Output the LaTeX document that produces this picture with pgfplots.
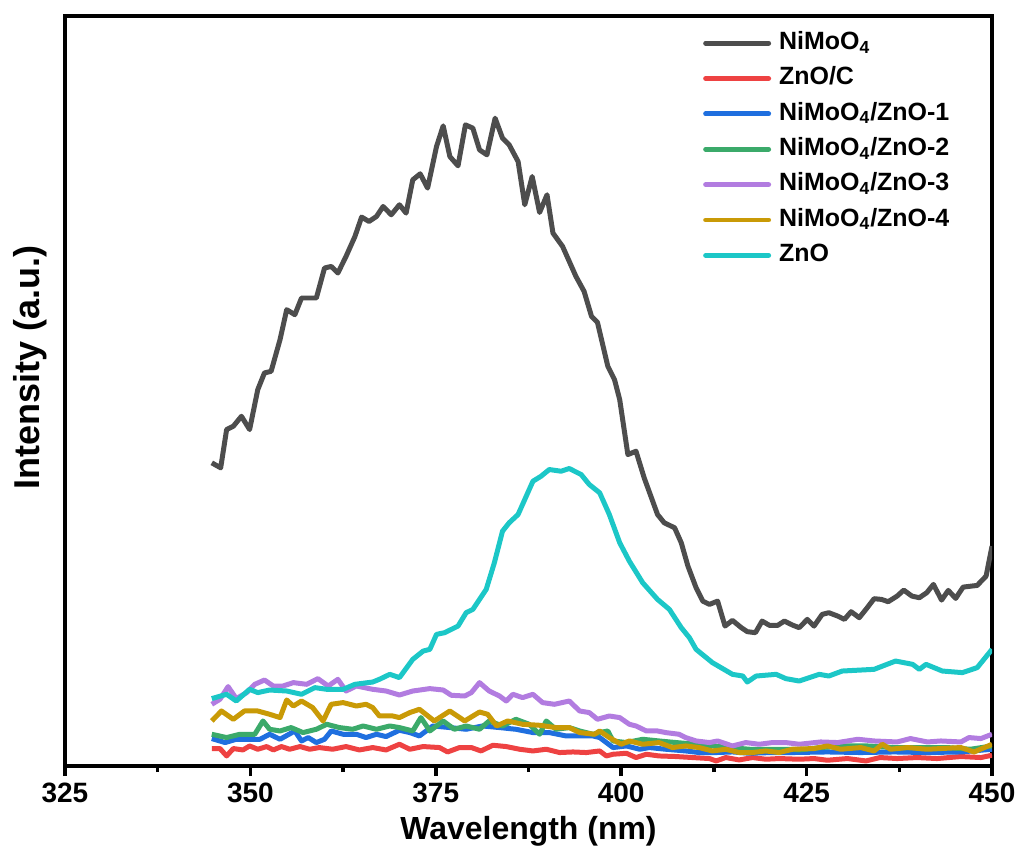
\documentclass[border=0pt]{standalone}
\usepackage{fontspec}
\setmainfont{Liberation Sans}
\usepackage{pgfplots}
\pgfplotsset{compat=1.18}

\definecolor{cNi}{HTML}{4D4D4D}
\definecolor{cZC}{HTML}{EE4242}
\definecolor{cA}{HTML}{1F6FDF}
\definecolor{cB}{HTML}{3BAA6A}
\definecolor{cC}{HTML}{B27CE0}
\definecolor{cD}{HTML}{C99A06}
\definecolor{cZ}{HTML}{1CC7C7}

\begin{document}
\begin{tikzpicture}
\begin{axis}[
  scale only axis,
  width=464pt, height=375.5pt,
  xmin=325, xmax=450, ymin=0, ymax=751,
  xtick={325,350,...,450},
  minor x tick num=1,
  ytick=\empty,
  xtick pos=bottom,
  tick align=outside,
  major tick length=5pt,
  minor tick length=3pt,
  every tick/.style={black, line width=1.8pt},
  axis line style={line width=2pt},
  /pgf/number format/assume math mode=true,
  /pgf/number format/1000 sep={},
  ticklabel style={font=\fontsize{14}{16}\selectfont\bfseries},
  xlabel={Wavelength (nm)},
  ylabel={Intensity (a.u.)},
  xlabel style={font=\fontsize{16}{18}\selectfont\bfseries, at={(axis description cs:0.5,-0.066)}, anchor=north, inner sep=0pt},
  ylabel style={font=\fontsize{18}{20}\selectfont\bfseries, at={(axis description cs:-0.0194,0.531)}, anchor=south, inner sep=0pt},
  legend style={at={(axis description cs:0.688,0.98)}, anchor=north west, draw=none, fill=none,
    font=\fontsize{12.5}{14}\selectfont\bfseries, row sep=5.9pt, column sep=4pt, inner sep=0pt,
    nodes={inner sep=0pt, text height=9pt, text depth=2.8pt}},
  legend cell align=left,
  legend image code/.code={\draw[#1, line width=2.5pt, line cap=round] (0pt,0pt) -- (31.5pt,0pt);},
  every axis plot/.append style={line width=2.5pt, line join=round, mark=none},
]

\addplot[cNi] coordinates {
(344.8,303.7) (346.0,298.7) (346.8,337) (347.7,340.3) (348.8,350.3) (349.9,337) (351.0,377)
(351.9,393.7) (352.8,395.3) (354.0,427) (354.9,457) (356.0,452) (356.9,468.7) (358.9,468.7)
(360.0,498.7) (360.9,500.3) (361.8,493.7) (362.9,510.3) (364.1,530.3) (365.0,549.7) (366.0,545.3)
(367.0,550.3) (367.9,560.3) (369.0,552) (370.1,562) (371.0,553.7) (371.9,587) (372.9,593)
(373.9,578.7) (375.1,620.3) (376.0,641) (376.9,610.3) (378.0,601) (379.0,642) (380.0,638.7)
(380.9,617) (381.9,612) (383.0,648.7) (384.0,628.7) (384.9,622) (386.1,605.3) (387.0,562)
(388.0,590.3) (389.0,554.3) (390.0,572) (390.8,533.7) (392.1,520.3) (393.9,490.3) (395.0,475.3)
(396.0,450.3) (396.8,444.3) (398.2,400.3) (399.1,387) (399.8,367) (400.9,312) (402.0,315.3)
(403.1,288.7) (404.9,252) (405.8,243.7) (407.2,238.7) (408.1,223.7) (409.0,200.3) (410.1,178.7)
(411.0,165.3) (411.9,162) (413.0,165.3) (414.0,140.3) (415.0,146) (416.2,138.7) (417.0,134.7)
(418.1,133.7) (419.0,145.3) (420.0,141) (421.1,141) (422.0,145.3) (423.1,141.3) (424.0,138.7)
(425.1,147) (426.0,140.3) (427.1,152) (428.0,153.7) (429.2,150.3) (430.1,147) (431.0,154.7)
(432.1,148.7) (433.0,157) (434.1,167.7) (435.1,167) (436.0,164.7) (437.2,170.3) (438.1,176.3)
(439.2,170.3) (440.2,168.7) (441.2,173.7) (442.1,182) (443.2,166.3) (444.1,176) (445.1,168)
(446.1,179.3) (448.0,181) (449.2,190.3) (450.0,220.3)
};
\addlegendentry{NiMoO\textsubscript{4}}

\addplot[cZC] coordinates {
(344.8,17.7) (345.9,17.7) (346.8,10.3) (347.7,17.7) (349.0,16.3) (349.9,20.3) (351.0,17)
(352.2,19.7) (353.1,16.3) (354.2,19.7) (355.3,17) (356.7,19.7) (358.0,17) (359.3,18.7)
(361.1,17) (362.9,19.7) (364.7,16.3) (366.5,18.7) (368.3,16.3) (370.1,22) (371.5,17)
(373.3,19.7) (375.5,18.7) (376.6,14.3) (378.2,18.7) (379.8,18.7) (381.1,15.3) (382.7,21)
(384.5,19.7) (386.3,17) (388.1,15.3) (389.9,17) (391.7,13.7) (393.5,14.3) (395.3,13.7)
(397.1,15.3) (398.0,10.3) (398.9,12) (400.7,13) (402.0,8.7) (403.4,12) (405.1,10.3)
(407.4,9.7) (409.6,8.7) (411.9,7.7) (412.8,5.3) (414.1,8.7) (415.9,6.3) (417.7,8.7)
(419.5,7) (421.3,7.7) (424.0,7) (426.0,7.7) (427.8,6) (430.5,7.7) (433.0,5.3) (434.9,8.7)
(437.2,7.7) (439.9,8.7) (442.6,7.7) (445.8,9.7) (448.5,8.7) (450.0,11)
};
\addlegendentry{ZnO/C}

\addplot[cA] coordinates {
(344.8,27.7) (346.6,23.7) (348.1,27) (349.9,27) (351.3,27) (352.6,32) (354.0,27) (356.0,35.3)
(356.9,25.3) (357.8,28.7) (358.9,23.7) (360.0,27) (360.9,35.3) (362.5,32) (364.3,32)
(365.6,28.7) (367.0,32) (368.3,29.7) (370.1,36) (371.5,33.7) (372.8,30.3) (374.6,40.3)
(376.9,38.7) (379.1,37) (381.3,40.3) (383.6,38.7) (385.8,37) (388.1,33.7) (390.3,33.7)
(392.6,30.3) (394.4,30.3) (396.2,30.3) (397.1,28.7) (398.9,18.7) (400.7,20.3) (402.5,17)
(403.8,18.7) (406.0,17) (408.7,15.3) (410.5,13.7) (412.8,13.7) (415.0,14.3) (417.3,13)
(420.4,13.7) (423.1,13.7) (427.8,14.3) (432.3,13.7) (436.8,14.3) (441.3,13.7) (445.8,14.3)
(450.0,17)
};
\addlegendentry{NiMoO\textsubscript{4}/ZnO-1}

\addplot[cB] coordinates {
(344.8,32) (346.8,28.7) (348.6,32) (350.6,32) (351.7,45.3) (352.6,37) (354.0,35.3) (355.5,38.7)
(357.1,33.7) (358.9,37) (360.3,42) (362.0,38.7) (363.8,37) (365.2,40.3) (367.0,37) (368.8,40.3)
(370.1,38.7) (371.9,35.3) (373.0,48.7) (374.2,35.3) (376.0,45.3) (377.5,37) (379.1,40.3)
(380.9,37) (382.2,45.3) (384.0,40.3) (385.8,47) (387.6,42) (389.0,32) (389.9,45.3) (391.2,37)
(393.0,38.7) (394.4,35.3) (396.2,32) (397.1,33.7) (398.2,35.3) (398.9,25.3) (400.7,23.7)
(402.9,27) (405.1,25.3) (407.4,23.7) (410.1,22) (412.3,20.3) (414.6,18.7) (417.3,17)
(420.4,17) (422.7,17) (424.0,16.3) (426.9,18.7) (430.0,20.3) (433.2,20.3) (436.8,18.7)
(440.4,18.7) (444.0,18.7) (447.1,17) (450.0,20.3)
};
\addlegendentry{NiMoO\textsubscript{4}/ZnO-2}

\addplot[cC] coordinates {
(344.8,62) (345.9,67) (347.0,79.7) (348.1,67.7) (349.5,73.7) (350.6,82) (351.9,86.3) (353.1,80.3)
(354.4,80.3) (355.8,83.7) (357.6,82) (359.1,87.7) (360.5,80.3) (361.8,87) (362.9,75.3)
(364.3,80.3) (366.5,77) (368.3,75.3) (370.1,71.3) (371.9,75.3) (374.2,77.7) (376.0,76.3)
(377.1,71) (378.9,70.3) (379.8,73.7) (380.9,83.7) (382.2,75.3) (383.6,70.3) (384.5,65.3)
(385.4,72) (386.7,68.7) (388.1,72) (389.4,63.7) (391.0,62) (393.0,65.3) (394.4,55.3)
(395.7,53.7) (396.8,47) (398.4,50.3) (399.8,48.7) (401.1,42) (402.0,40.3) (403.4,35.3)
(404.9,35.3) (406.0,33.7) (407.8,32) (408.7,28.7) (410.1,25.3) (411.9,23.7) (413.0,25.3)
(415.0,20.3) (416.8,23.7) (418.6,22) (420.4,23.7) (422.2,23.7) (424.0,22) (426.9,24.3)
(429.2,23.7) (431.9,27) (434.1,25.3) (437.2,24.3) (439.0,27.7) (441.3,24.3) (443.1,25.3)
(445.8,24.3) (446.9,28.7) (448.5,27.7) (450.0,32)
};
\addlegendentry{NiMoO\textsubscript{4}/ZnO-3}

\addplot[cD] coordinates {
(344.8,45.3) (346.1,55.3) (347.7,47) (349.2,55.3) (351.0,55.3) (352.6,52) (354.0,48.7) (354.9,66.3)
(355.8,60.3) (356.9,65.3) (358.4,58.7) (359.8,45.3) (360.9,62) (362.5,63.7) (364.3,60.3)
(365.6,62) (366.5,58.7) (367.4,50.3) (369.2,50.3) (370.1,48.7) (371.5,53.7) (372.8,57)
(374.8,45.3) (376.9,55.3) (378.9,45.3) (380.9,54.3) (382.0,52) (383.2,40.3) (384.7,45.3)
(386.7,42) (389.0,41) (391.2,38.7) (393.0,38.7) (394.4,33.7) (396.4,32) (397.1,35.3)
(398.4,28.7) (400.0,22) (401.1,25.3) (402.9,22) (405.1,23.7) (406.9,18.7) (408.7,20.3)
(410.5,18.7) (412.3,15.3) (414.1,17) (415.9,13.7) (417.7,13.7) (419.5,15.3) (421.3,13.7)
(423.1,17) (426.0,17.7) (427.8,20.3) (429.6,17) (432.3,18.7) (434.1,15.3) (435.2,22)
(436.3,17) (438.6,18.7) (441.3,17) (443.1,17.7) (445.8,18.7) (447.6,14.3) (450.0,22)
};
\addlegendentry{NiMoO\textsubscript{4}/ZnO-4}

\addplot[cZ] coordinates {
(344.8,67.7) (346.8,72) (348.1,65.3) (349.9,77) (351.0,73.7) (352.6,76.3) (354.9,75.3) (356.9,72)
(358.7,78.7) (360.3,77) (362.5,77) (364.1,82) (366.5,84.3) (367.4,87) (368.8,92) (370.1,88.7)
(371.9,107) (373.3,115.3) (374.2,117) (375.1,132) (376.2,133.7) (378.0,140.3) (379.1,153.7)
(380.0,157) (381.8,177) (382.9,203.7) (384.0,235.3) (384.9,243.7) (386.1,252) (387.0,267)
(388.1,285.3) (389.2,290.3) (390.3,297) (391.9,295.3) (393.0,298) (394.6,292) (395.7,282)
(397.1,273.7) (398.4,252) (399.8,223.7) (401.1,205.3) (402.9,183.7) (404.9,167) (406.5,157)
(408.1,138.7) (409.2,128.7) (410.1,117) (412.3,103.7) (415.0,92) (416.4,90.3) (417.0,84.3)
(418.2,90.3) (420.9,92) (422.2,87.7) (424.0,85.3) (426.7,92) (428.0,90.3) (429.8,95.3)
(434.1,97) (437.0,105.3) (439.3,102) (440.2,97) (441.1,102) (443.3,95.3) (446.0,93.7)
(448.0,98.7) (450.0,117)
};
\addlegendentry{ZnO}

\end{axis}
\path ([yshift=8pt]current axis.north);
\path ([xshift=14.5pt]current axis.east);
\path ([xshift=-32.5pt]current axis.west);
\path ([yshift=-42.5pt]current axis.south);
\end{tikzpicture}
\end{document}
